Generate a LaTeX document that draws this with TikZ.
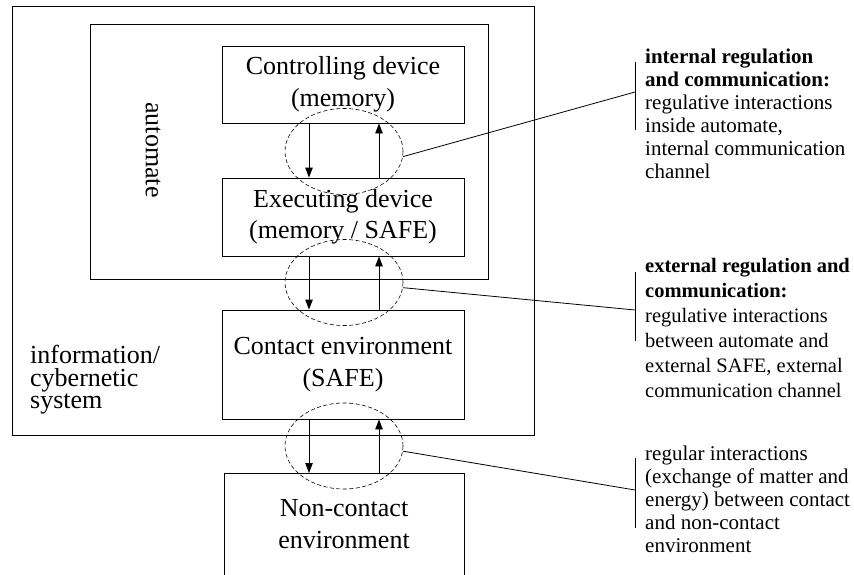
\documentclass[tikz,border=0pt]{standalone}
\usepackage{fontspec}
\setmainfont{Liberation Serif}
\usetikzlibrary{shapes.geometric,arrows.meta}
\begin{document}
\begin{tikzpicture}[x=1pt,y=-1pt,
  frame/.style={draw,line width=0.9pt,inner sep=0pt},
  box/.style={draw,line width=0.9pt,inner sep=0pt,align=center,font=\fontsize{26}{31.5}\selectfont},
  boxtext/.style={inner sep=0pt,align=center,font=\fontsize{26}{31.5}\selectfont},
  flow/.style={line width=0.9pt,-{Triangle[length=10pt,width=7.5pt]}},
  zone/.style={draw,ellipse,dash pattern=on 4pt off 2.5pt,line width=0.6pt,
    minimum width=118pt,minimum height=86pt,inner sep=0pt},
  lead/.style={line width=0.8pt},
  note/.style={anchor=north west,inner sep=0pt,align=left,font=\fontsize{21}{23}\selectfont},
]
\useasboundingbox (0,0) rectangle (854,574);

% system and automate frames
\node[frame,minimum width=522pt,minimum height=429pt,anchor=north west] (sys) at (12,6) {};
\node[frame,minimum width=398pt,minimum height=255pt,anchor=north west] (aut) at (90,24) {};

% frame labels
\node[anchor=north west,inner sep=0pt,align=left,font=\fontsize{26}{22.5}\selectfont]
  (syslabel) at (30,345) {information/\\cybernetic\\system};
\node[rotate=-90,inner sep=0pt,font=\fontsize{26}{31}\selectfont] (autlabel) at (153,150) {automate};

% blocks
\node[box,minimum width=242pt,minimum height=77pt] (ctrl) at (343,84.5) {Controlling device\\(memory)};
\node[box,minimum width=242pt,minimum height=78pt] (exec) at (343,217) {Executing device\\(memory / SAFE)};
\node[box,minimum width=242pt,minimum height=109pt] (cont) at (343,364.5) {Contact environment\\(SAFE)};
\node[box,minimum width=240pt,minimum height=140pt,anchor=north] (nonc) at (344,473) {};
\node[boxtext] (nonctext) at (344,524) {Non-contact\\environment};

% interaction zones
\node[zone] (z1) at (344,151.5) {};
\node[zone] (z2) at (344,282.5) {};
\node[zone] (z3) at (344,446) {};

% flows between blocks
\draw[flow] ([xshift=-34pt]ctrl.south) -- ([xshift=-34pt]exec.north);
\draw[flow] ([xshift=36pt]exec.north) -- ([xshift=36pt]ctrl.south);
\draw[flow] ([xshift=-34pt]exec.south) -- ([xshift=-34pt]cont.north);
\draw[flow] ([xshift=36pt]cont.north) -- ([xshift=36pt]exec.south);
\draw[flow] ([xshift=-34pt]cont.south) -- ([xshift=-35pt]nonc.north);
\draw[flow] ([xshift=35pt]nonc.north) -- ([xshift=36pt]cont.south);

% leaders and brackets
\coordinate (p1) at (635,92);
\coordinate (b1t) at (635,62);
\coordinate (b1b) at (635,130);
\coordinate (p2) at (635,310);
\coordinate (b2t) at (635,272);
\coordinate (b2b) at (635,341);
\coordinate (p3) at (635,490);
\coordinate (b3t) at (635,458);
\coordinate (b3b) at (635,528);
\draw[lead] (z1.-5) -- (p1);
\draw[lead] (b1t) -- (b1b);
\draw[lead] (z2.-5) -- (p2);
\draw[lead] (b2t) -- (b2b);
\draw[lead] (z3.-5) -- (p3);
\draw[lead] (b3t) -- (b3b);

% notes
\node[note] (n1) at (645,48.5) {\textbf{internal regulation}\\\textbf{and communication:}\\regulative interactions\\inside automate,\\internal communication\\channel};
\node[note,font=\fontsize{20.5}{25}\selectfont] (n2) at (645,258) {\textbf{external regulation and}\\\textbf{communication:}\\regulative interactions\\between automate and\\external SAFE, external\\communication channel};
\node[note] (n3) at (645,445.4) {regular interactions\\(exchange of matter and\\energy) between contact\\and non-contact\\environment};
\end{tikzpicture}
\end{document}
